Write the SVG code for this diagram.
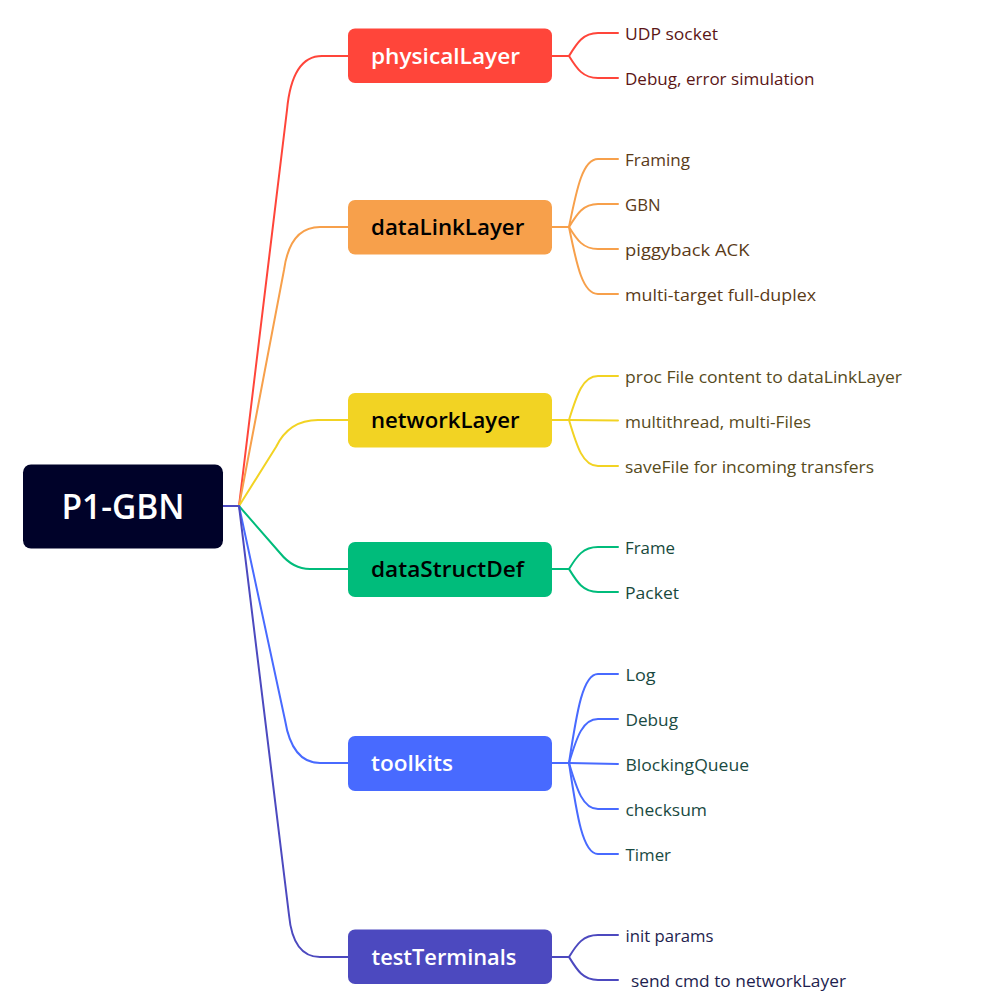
<svg xmlns="http://www.w3.org/2000/svg" width="997" height="1005" viewBox="0 0 997 1005">
<style>
.c{fill:none;stroke-width:2;stroke-linecap:round;stroke-linejoin:round}
.root{font-family:"Open Sans","Liberation Sans",sans-serif;font-size:35px;font-weight:600;fill:#ffffff}
.nt{font-family:"Open Sans","Liberation Sans",sans-serif;font-size:21px;font-weight:600}
.lt{font-family:"Open Sans","Liberation Sans",sans-serif;font-size:16.5px}
.r{stroke:#FF453A}.o{stroke:#F7A04B}.y{stroke:#F2D323}.g{stroke:#00BC7B}.b{stroke:#486AFF}.p{stroke:#4C49BF}
</style>
<rect width="997" height="1005" fill="#ffffff"/>
<g id="connectors">
  <path class="c p" d="M223,506 L239,506"/>
  <path class="c r" d="M239,506 L287,110 Q292,56 322,56 L348,56"/>
  <path class="c o" d="M239,506 L284,270 Q290,227 320,227 L348,227"/>
  <path class="c y" d="M239,506 L276,447 Q289,420 318,420 L348,420"/>
  <path class="c g" d="M239,506 L280,553 Q293,569 310,569 L348,569"/>
  <path class="c b" d="M239,506 L285,720 Q292,763 320,763 L348,763"/>
  <path class="c p" d="M239,506 L289,915 Q293,957 320,957 L348,957"/>

  <path class="c r" d="M552,56 L569,56 C577,43 583,33 598,33 L618,33"/>
  <path class="c r" d="M569,56 C577,69 583,78 598,78 L618,78"/>

  <path class="c o" d="M552,227 L569,227 C577,187 583,159 598,159 L618,159"/>
  <path class="c o" d="M569,227 C577,214 583,204 598,204 L618,204"/>
  <path class="c o" d="M569,227 C577,240 583,249 598,249 L618,249"/>
  <path class="c o" d="M569,227 C577,267 583,294 598,294 L618,294"/>

  <path class="c y" d="M552,420 L569,420 C577,394 583,376 598,376 L618,376"/>
  <path class="c y" d="M569,420 L618,420.5"/>
  <path class="c y" d="M569,420 C577,447 583,466 598,466 L618,466"/>

  <path class="c g" d="M552,569 L569,569 C577,556 583,547 598,547 L618,547"/>
  <path class="c g" d="M569,569 C577,582 583,592 598,592 L618,592"/>

  <path class="c b" d="M552,763 L569,763 C577,710 583,674 598,674 L618,674"/>
  <path class="c b" d="M569,763 C577,736 583,719 598,719 L618,719"/>
  <path class="c b" d="M569,763 L618,764"/>
  <path class="c b" d="M569,763 C577,790 583,809 598,809 L618,809"/>
  <path class="c b" d="M569,763 C577,817 583,854 598,854 L618,854"/>

  <path class="c p" d="M552,957 L569,957 C577,944 583,935 598,935 L618,935"/>
  <path class="c p" d="M569,957 C577,970 583,980 598,980 L618,980"/>
</g>
<g id="root">
  <rect x="23" y="464.5" width="200" height="84" rx="8" fill="#000229"/>
  <text class="root" x="61.5" y="519" textLength="123" lengthAdjust="spacingAndGlyphs">P1-GBN</text>
</g>
<g id="physicalLayer">
  <rect x="348" y="28.5" width="204" height="54.5" rx="7" fill="#FF453A"/>
  <text class="nt" x="371" y="63.5" fill="#ffffff" textLength="149" lengthAdjust="spacingAndGlyphs">physicalLayer</text>
  <text class="lt" x="625" y="39.5" fill="#5b1616" textLength="93" lengthAdjust="spacingAndGlyphs">UDP socket</text>
  <text class="lt" x="625" y="84.5" fill="#5b1616" textLength="189.5" lengthAdjust="spacingAndGlyphs">Debug, error simulation</text>
</g>
<g id="dataLinkLayer">
  <rect x="348" y="200" width="204" height="54.5" rx="7" fill="#F7A04B"/>
  <text class="nt" x="371" y="235" fill="#000000" textLength="153.3" lengthAdjust="spacingAndGlyphs">dataLinkLayer</text>
  <text class="lt" x="625" y="165.5" fill="#5a3a18" textLength="65" lengthAdjust="spacingAndGlyphs">Framing</text>
  <text class="lt" x="625" y="210.5" fill="#5a3a18" textLength="35.5" lengthAdjust="spacingAndGlyphs">GBN</text>
  <text class="lt" x="625" y="255.5" fill="#5a3a18" textLength="124.5" lengthAdjust="spacingAndGlyphs">piggyback ACK</text>
  <text class="lt" x="625" y="300.5" fill="#5a3a18" textLength="191" lengthAdjust="spacingAndGlyphs">multi-target full-duplex</text>
</g>
<g id="networkLayer">
  <rect x="348" y="393" width="204" height="54.5" rx="7" fill="#F2D323"/>
  <text class="nt" x="371" y="428" fill="#000000" textLength="148.5" lengthAdjust="spacingAndGlyphs">networkLayer</text>
  <text class="lt" x="625" y="382.5" fill="#574b1c" textLength="277" lengthAdjust="spacingAndGlyphs">proc File content to dataLinkLayer</text>
  <text class="lt" x="625" y="427.5" fill="#574b1c" textLength="186" lengthAdjust="spacingAndGlyphs">multithread, multi-Files</text>
  <text class="lt" x="625" y="472.5" fill="#574b1c" textLength="249" lengthAdjust="spacingAndGlyphs">saveFile for incoming transfers</text>
</g>
<g id="dataStructDef">
  <rect x="348" y="542" width="204" height="55" rx="7" fill="#00BC7B"/>
  <text class="nt" x="371" y="577" fill="#000000" textLength="153" lengthAdjust="spacingAndGlyphs">dataStructDef</text>
  <text class="lt" x="625" y="553.5" fill="#17493c" textLength="50" lengthAdjust="spacingAndGlyphs">Frame</text>
  <text class="lt" x="625" y="598.5" fill="#17493c" textLength="54" lengthAdjust="spacingAndGlyphs">Packet</text>
</g>
<g id="toolkits">
  <rect x="348" y="736" width="204" height="55" rx="7" fill="#486AFF"/>
  <text class="nt" x="371" y="771" fill="#ffffff" textLength="82" lengthAdjust="spacingAndGlyphs">toolkits</text>
  <text class="lt" x="625.5" y="680.5" fill="#1a4a42" textLength="30" lengthAdjust="spacingAndGlyphs">Log</text>
  <text class="lt" x="625.5" y="725.5" fill="#1a4a42" textLength="52.5" lengthAdjust="spacingAndGlyphs">Debug</text>
  <text class="lt" x="625.5" y="770.5" fill="#1a4a42" textLength="123.5" lengthAdjust="spacingAndGlyphs">BlockingQueue</text>
  <text class="lt" x="625.5" y="815.5" fill="#1a4a42" textLength="81.5" lengthAdjust="spacingAndGlyphs">checksum</text>
  <text class="lt" x="625.5" y="860.5" fill="#1a4a42" textLength="45.5" lengthAdjust="spacingAndGlyphs">Timer</text>
</g>
<g id="testTerminals">
  <rect x="348" y="929.5" width="204" height="54.5" rx="7" fill="#4C49BF"/>
  <text class="nt" x="371.5" y="964.5" fill="#ffffff" textLength="145" lengthAdjust="spacingAndGlyphs">testTerminals</text>
  <text class="lt" x="625.5" y="941.5" fill="#1e1e4e" textLength="88" lengthAdjust="spacingAndGlyphs">init params</text>
  <text class="lt" x="631" y="986.5" fill="#1e1e4e" textLength="215" lengthAdjust="spacingAndGlyphs">send cmd to networkLayer</text>
</g>
</svg>
